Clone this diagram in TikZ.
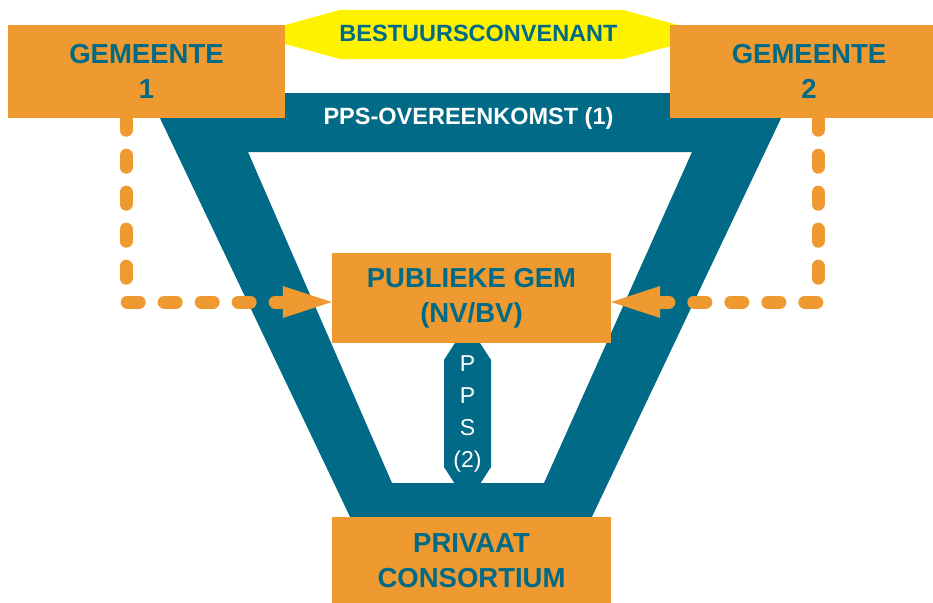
\documentclass[tikz,border=0pt]{standalone}
\usepackage{fontspec}
\setmainfont{Liberation Sans}
\usetikzlibrary{arrows.meta}
\definecolor{gemorange}{RGB}{238,154,48}
\definecolor{ppsteal}{RGB}{0,106,135}

\begin{document}
\begin{tikzpicture}[x=1pt,y=-1pt,
  party/.style={fill=gemorange, text=ppsteal, align=center, inner sep=0pt,
    minimum width=279pt, minimum height=92pt,
    font=\bfseries\fontsize{27.5}{35}\selectfont},
  bandtext/.style={text=white, font=\bfseries\fontsize{23.5}{28}\selectfont},
  flow/.style={draw=gemorange, line width=13pt, line cap=round,
    dash pattern=on 12pt off 25pt,
    -{Triangle[length=49pt,width=32pt,line width=0pt]}}]
  \useasboundingbox (0,0) rectangle (933,602);
  \fill[yellow] (250,34.5) -- (340,10) -- (623,10) -- (713,34.5)
    -- (623,59) -- (340,59) -- cycle;
  \node[text=ppsteal, font=\bfseries\fontsize{23.5}{28}\selectfont]
    (conv) at (478.5,33) {BESTUURSCONVENANT};
  \fill[ppsteal, even odd rule]
    (148,93) -- (793,93) -- (590,521) -- (352,521) -- cycle
    (248,152) -- (692,152) -- (544,483) -- (392,483) -- cycle;
  \node[bandtext] (ovk) at (468.5,118) {PPS-OVEREENKOMST (1)};
  \fill[ppsteal] (444,360) -- (455,343) -- (480,343) -- (491,360)
    -- (491,467) -- (480,484) -- (455,484) -- (444,467) -- cycle;
  \node[text=white, align=center, font=\fontsize{23}{31.7}\selectfont]
    (pps) at (467.5,414) {P\\P\\S\\(2)};
  \node[party, minimum width=277pt, minimum height=93pt]
    (gem1) at (146.5,71.5) {GEMEENTE\\1};
  \node[party, minimum width=279pt, minimum height=93pt]
    (gem2) at (809,71.5) {GEMEENTE\\2};
  \node[party, minimum height=90pt] (pub) at (471.5,298) {PUBLIEKE GEM\\(NV/BV)};
  \node[party, minimum height=88pt] (priv) at (471.5,561) {PRIVAAT\\CONSORTIUM};
  \draw[flow] ([xshift=-20.5pt]gem1.south) |- ([yshift=-4pt]pub.west);
  \draw[flow] ([xshift=9pt]gem2.south) |- ([yshift=-4pt]pub.east);
\end{tikzpicture}
\end{document}
